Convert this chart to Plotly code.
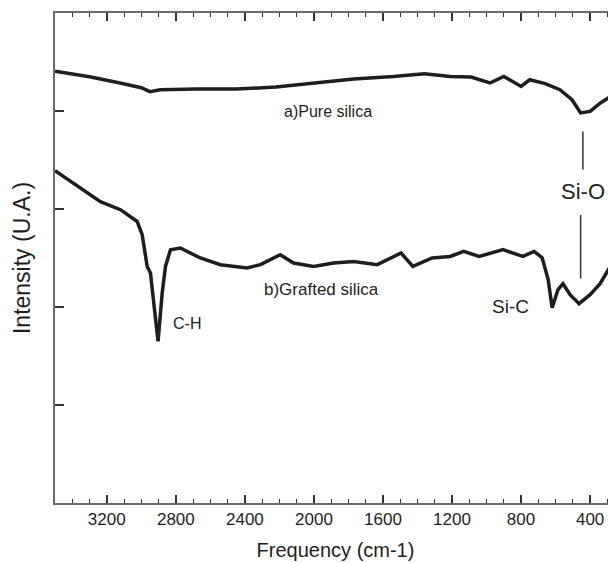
import plotly.graph_objects as go

# ---- data ----
freq_a = [3500, 3300, 3130, 3000, 2950, 2890, 2680, 2450, 2220, 2000, 1770, 1540,
          1360, 1210, 1090, 980, 900, 800, 750, 660, 575, 505, 455, 400, 340, 250]
int_a = [4.406, 4.350, 4.289, 4.238, 4.197, 4.217, 4.224, 4.224, 4.245, 4.286, 4.327, 4.353,
         4.381, 4.353, 4.347, 4.286, 4.353, 4.251, 4.319, 4.279, 4.217, 4.115, 3.980, 3.996, 4.082, 4.184]

freq_b = [3500, 3294, 3237, 3121, 3024, 2995, 2966, 2947, 2928, 2903, 2879, 2860, 2831,
          2774, 2658, 2542, 2387, 2310, 2195, 2118, 2002, 1886, 1769, 1633, 1495, 1427,
          1315, 1211, 1132, 1043, 904, 790, 724, 678, 643, 620, 586, 557, 516, 464, 400, 342, 250]
int_b = [3.391, 3.140, 3.075, 2.993, 2.873, 2.738, 2.414, 2.347, 2.074, 1.649, 2.143, 2.414, 2.585,
         2.602, 2.500, 2.432, 2.398, 2.432, 2.534, 2.449, 2.414, 2.449, 2.465, 2.432, 2.551, 2.414,
         2.500, 2.516, 2.567, 2.516, 2.585, 2.516, 2.567, 2.503, 2.279, 1.993, 2.177, 2.238, 2.126,
         2.034, 2.126, 2.238, 2.513]

x_major_ticks = [3200, 2800, 2400, 2000, 1600, 1200, 800, 400]
x_minor_ticks = list(range(300, 3500, 100))
y_ticks = [1, 2, 3, 4]

labels_text = ["a)Pure silica", "b)Grafted silica", "C-H", "Si-C", "Si-O"]
labels_x = [1920, 1957, 2733, 863, 442]
labels_y = [3.99, 2.18, 1.83, 2.01, 3.18]
labels_size = [16, 17, 16, 19, 22]

sio_x_upper = 442
sio_y_upper = [3.79, 3.40]
sio_x_lower = 455
sio_y_lower = [2.94, 2.29]

ink = "#1e1e1e"
axis_col = "#6a6a6a"
font_fam = "Liberation Sans, Arial, sans-serif"

fig = go.Figure()
fig.add_trace(go.Scatter(x=freq_a, y=int_a, mode="lines",
                         line=dict(color=ink, width=3.5), showlegend=False))
fig.add_trace(go.Scatter(x=freq_b, y=int_b, mode="lines",
                         line=dict(color=ink, width=3.5), showlegend=False))

for t, x, y, s in zip(labels_text, labels_x, labels_y, labels_size):
    fig.add_annotation(x=x, y=y, text=t, showarrow=False,
                       font=dict(family=font_fam, size=s, color=ink),
                       xanchor="center", yanchor="middle")

fig.add_shape(type="line", x0=sio_x_upper, x1=sio_x_upper, y0=sio_y_upper[0], y1=sio_y_upper[1],
              line=dict(color="#333", width=1.5))
fig.add_shape(type="line", x0=sio_x_lower, x1=sio_x_lower, y0=sio_y_lower[0], y1=sio_y_lower[1],
              line=dict(color="#333", width=1.5))

# page body has an 8px margin: figure is sized/offset so the plot area lands where the reference has it
fig.update_layout(
    width=608, height=555,
    margin=dict(l=46.5, r=0, t=5.3, b=59.7),
    paper_bgcolor="white", plot_bgcolor="white",
    font=dict(family=font_fam, color=ink),
    xaxis=dict(range=[3500, 250], showgrid=False, zeroline=False,
               showline=True, linecolor=axis_col, linewidth=2, mirror="ticks",
               ticks="inside", ticklen=8, tickwidth=1.5, tickcolor="#333",
               tickvals=x_major_ticks, ticktext=[str(v) for v in x_major_ticks],
               tickfont=dict(size=17, color=ink),
               minor=dict(tickvals=x_minor_ticks, ticks="inside", ticklen=4,
                          tickwidth=1.2, tickcolor="#333", showgrid=False),
               title=dict(text="Frequency (cm-1)", font=dict(size=20, color=ink), standoff=15)),
    yaxis=dict(range=[0, 5], showgrid=False, zeroline=False,
               showline=True, linecolor=axis_col, linewidth=2,
               ticks="inside", ticklen=9, tickwidth=1.5, tickcolor="#333",
               tickvals=y_ticks, showticklabels=False,
               title=dict(text="Intensity (U.A.)", font=dict(size=23, color=ink), standoff=16)),
    yaxis2=dict(range=[0, 5], overlaying="y", side="right", showgrid=False, zeroline=False,
                showline=False, ticks="inside", ticklen=4, tickwidth=1.5, tickcolor="#333",
                tickvals=y_ticks, showticklabels=False),
)

fig.write_html("out.html")
